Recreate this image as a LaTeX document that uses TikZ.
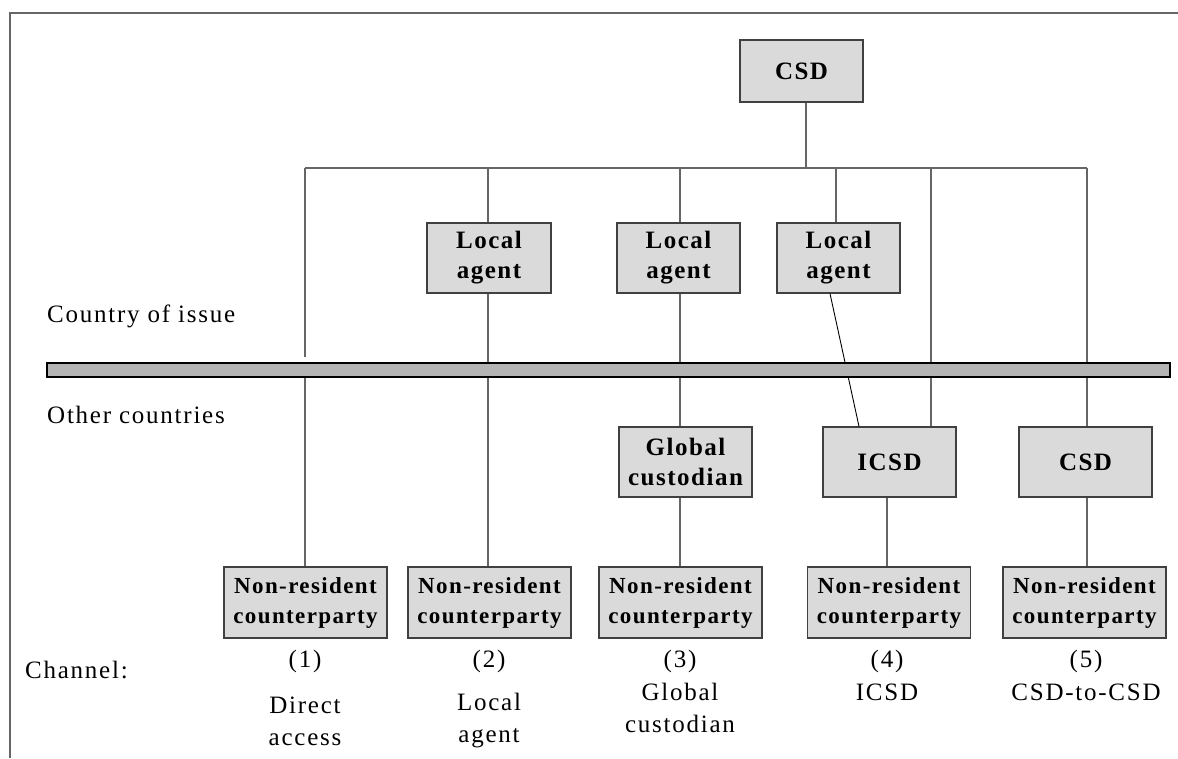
\documentclass[tikz,border=0pt]{standalone}
\usepackage{fontspec}
\setmainfont{Liberation Serif}
\newfontfamily\boxfont{Liberation Serif}[LetterSpace=6]
\newfontfamily\labfont{Liberation Serif}[LetterSpace=7]
\definecolor{boxfill}{HTML}{DADADA}
\definecolor{bandfill}{HTML}{B4B4B4}
\definecolor{linegray}{HTML}{666666}
\begin{document}
\begin{tikzpicture}[x=1pt,y=-1pt,
  box/.style={draw=black!75, line width=1.1pt, fill=boxfill, inner sep=0pt,
    align=center, minimum width=124pt, minimum height=70pt,
    font=\boxfont\bfseries\fontsize{25}{30}\selectfont},
  nrbox/.style={box, minimum width=163pt, minimum height=71pt,
    font=\boxfont\bfseries\fontsize{23}{30}\selectfont},
  conn/.style={draw=linegray, line width=1.2pt},
  lab/.style={inner sep=0pt, align=center, font=\labfont\fontsize{25}{32}\selectfont},
  frame/.style={draw=black!60, line width=1.4pt}
]
\useasboundingbox (0,0) rectangle (1178,758);

% outer frame, top and left edges only
\coordinate (fl) at (10,758);
\coordinate (ftl) at (10,13);
\coordinate (ftr) at (1178,13);
\draw[frame] (fl) -- (ftl) -- (ftr);

% central securities depository of the country of issue
\node[box, minimum width=123pt, minimum height=62pt] (csd) at (801.5,71) {CSD};

% distribution bus
\coordinate (b1) at (305,168);
\coordinate (b2) at (488,168);
\coordinate (b3) at (680,168);
\coordinate (b4) at (836,168);
\coordinate (b5) at (931,168);
\coordinate (b6) at (1087,168);
\coordinate (bc) at (806,168);

% intermediaries
\node[box] (la1) at (489,258) {Local\\agent};
\node[box, minimum width=123pt] (la2) at (678.5,258) {Local\\agent};
\node[box, minimum width=123pt] (la3) at (838.5,258) {Local\\agent};
\node[box, minimum width=133pt] (gc) at (685.5,462) {Global\\custodian};
\node[box, minimum width=133pt] (icsd) at (889.5,462) {ICSD};
\node[box, minimum width=133pt] (csd2) at (1085.5,462) {CSD};

% non-resident counterparties
\node[nrbox] (nr1) at (305.5,602.5) {Non-resident\\counterparty};
\node[nrbox] (nr2) at (489.5,602.5) {Non-resident\\counterparty};
\node[nrbox] (nr3) at (680.5,602.5) {Non-resident\\counterparty};
\node[nrbox] (nr4) at (889,602.5) {Non-resident\\counterparty};
\node[nrbox] (nr5) at (1084.5,602.5) {Non-resident\\counterparty};

% connectors
\draw[conn] (csd.south -| bc) -- (bc);
\draw[conn] (b1) -- (b6);
\coordinate (g1) at (305,357);
\draw[conn] (b1) -- (g1);
\draw[conn] (305,377) -- (nr1.north -| b1);
\draw[conn] (b2) -- (la1.north -| b2);
\draw[conn] (la1.south -| b2) -- (nr2.north -| b2);
\draw[conn] (b3) -- (la2.north -| b3);
\draw[conn] (la2.south -| b3) -- (gc.north -| b3);
\draw[conn] (gc.south -| b3) -- (nr3.north -| b3);
\draw[conn] (b4) -- (la3.north -| b4);
\draw[black, line width=0.9pt] ([xshift=-8.5pt]la3.south) -- ([xshift=-30.5pt]icsd.north);
\draw[conn] (b5) -- (icsd.north -| b5);
\coordinate (v4) at (887,497);
\draw[conn] (icsd.south -| v4) -- (nr4.north -| v4);
\draw[conn] (b6) -- (csd2.north -| b6);
\draw[conn] (csd2.south -| b6) -- (nr5.north -| b6);

% border between country of issue and other countries
\node[draw=black, line width=1.1pt, fill=bandfill, inner sep=0pt,
  minimum width=1123pt, minimum height=14pt] (band) at (608.5,370) {};

% side labels
\node[lab, anchor=base west] (coi) at (47,322) {Country of issue};
\node[lab, anchor=base west] (oc) at (47,423) {Other countries};
\node[lab, anchor=base west] (ch) at (25,678) {Channel:};

% channel labels
\node[lab] (c1) at (305,661) {(1)};
\node[lab] (c2) at (489,661) {(2)};
\node[lab] (c3) at (680,661) {(3)};
\node[lab] (c4) at (887,661) {(4)};
\node[lab] (c5) at (1086,661) {(5)};
\node[lab] (d1) at (305,721) {Direct\\access};
\node[lab] (d2) at (489,721) {Local\\agent};
\node[lab] (d3) at (680,708) {Global\\custodian};
\node[lab] (d4) at (887,692) {ICSD};
\node[lab] (d5) at (1086,692) {CSD-to-CSD};
\end{tikzpicture}
\end{document}
